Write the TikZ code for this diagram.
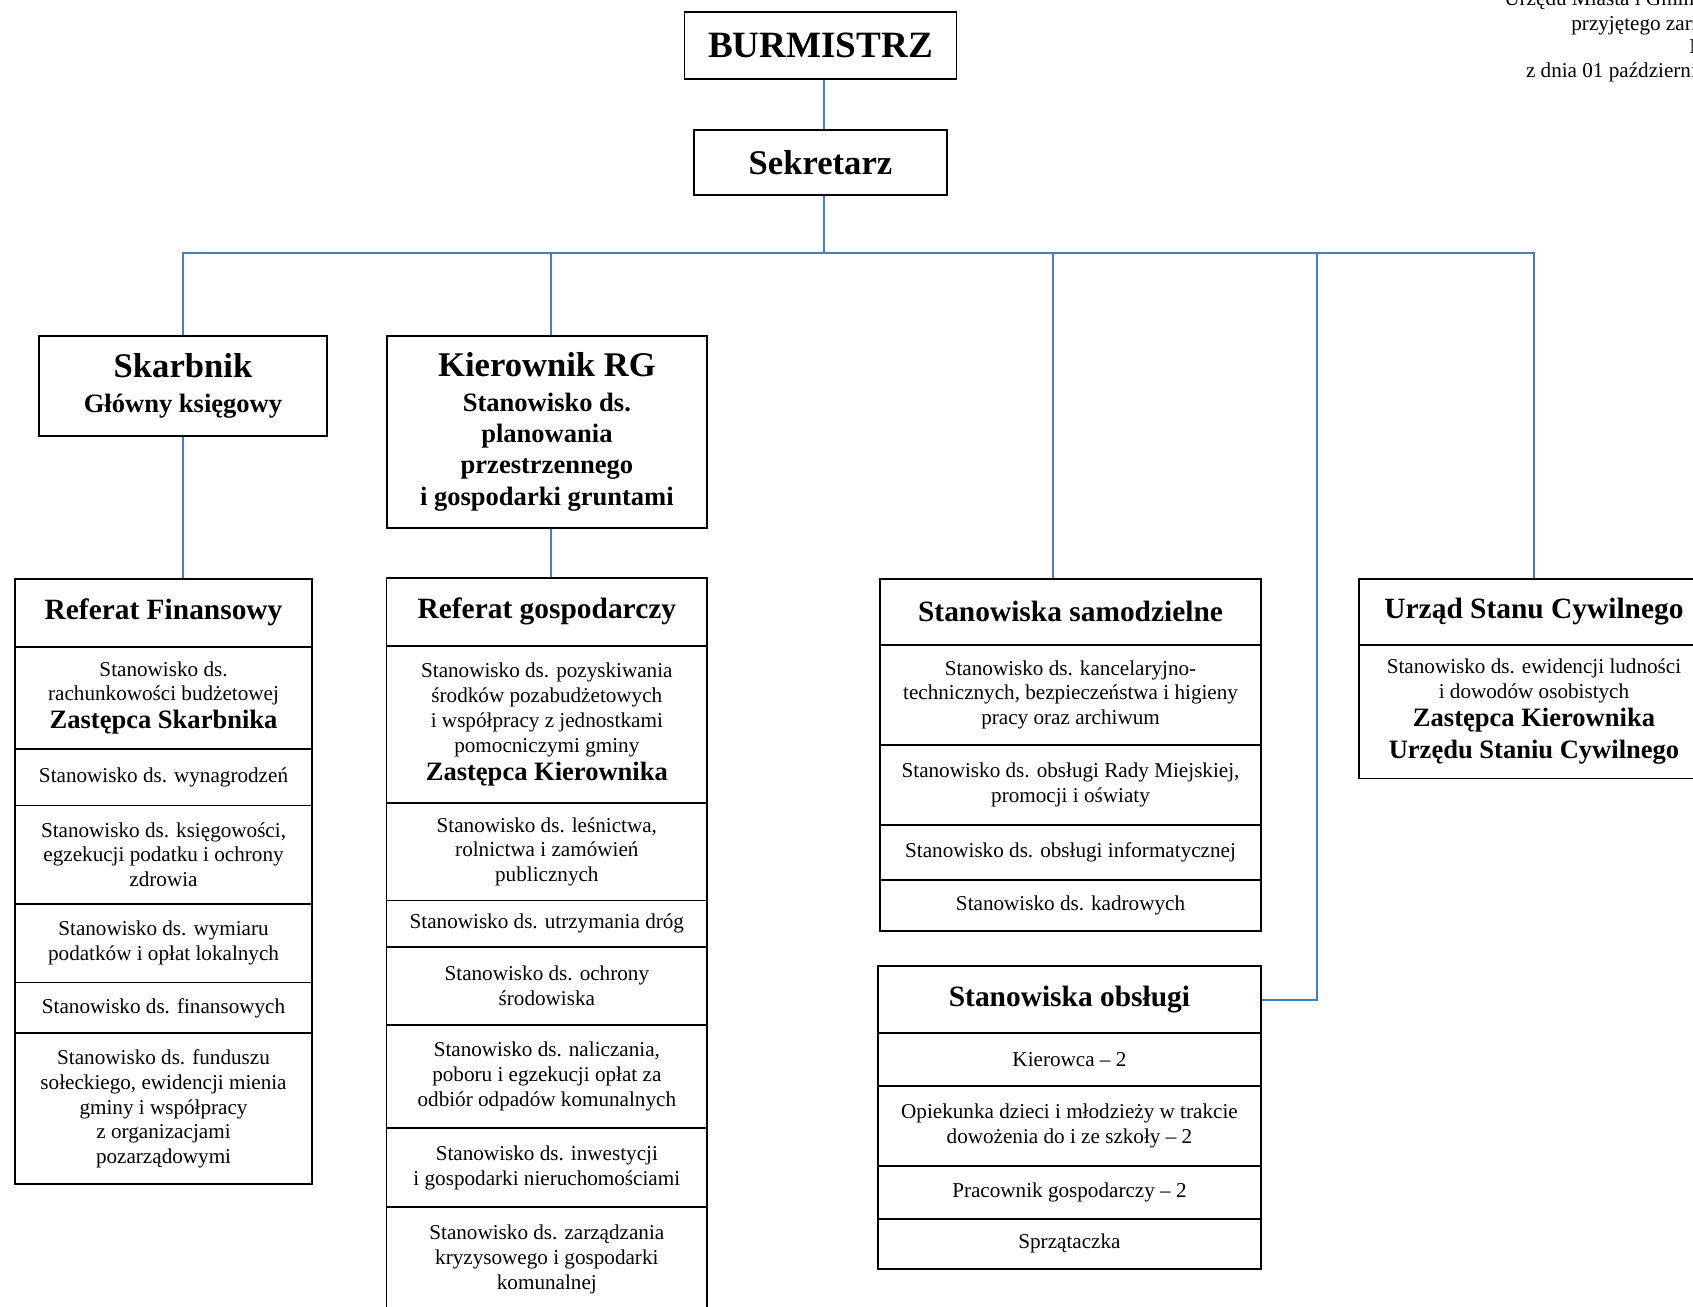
\documentclass[tikz,border=0pt]{standalone}
\usepackage{fontspec}
\setmainfont{Liberation Serif}
\definecolor{linkblue}{RGB}{74,126,187}
\newcommand{\pxu}{0.52pt}
\newcommand{\zast}[1]{{\fontsize{13.8}{16.3}\selectfont\bfseries #1}}
\newcommand{\duzy}[1]{{\fontsize{18}{20}\selectfont #1}}
\begin{document}
\begin{tikzpicture}[x=0.52pt, y=-0.52pt, font=\fontsize{11}{12.9}\selectfont,
	box/.style={draw, line width=1pt, align=center, inner sep=2pt},
	head/.style={box, font=\fontsize{15.3}{17}\selectfont\bfseries},
	chief/.style={box, font=\fontsize{13.8}{16.3}\selectfont\bfseries},
	link/.style={linkblue, line width=1pt}]
	\useasboundingbox (0,0) rectangle (1693,1306);
	\clip (0,0) rectangle (1693,1306);
	% naglowek w rogu
	\node[anchor=base west, inner sep=0] (zal1) at (1504,5) {Urzędu Miasta i Gminy};
	\node[anchor=base west, inner sep=0] (zal2) at (1571,30) {przyjętego zarządzeniem};
	\node[anchor=base west, inner sep=0] (zal3) at (1689,53.5) {Nr};
	\node[anchor=base west, inner sep=0] (zal4) at (1525.6,77) {z dnia 01 października};
	% kierownictwo
	\node[chief, font=\fontsize{19.3}{21}\selectfont\bfseries, minimum width=272*\pxu, minimum height=67*\pxu] (burm) at (820.5,45.3) {BURMISTRZ};
	\node[chief, font=\fontsize{18}{20}\selectfont\bfseries, minimum width=252.7*\pxu, minimum height=65.8*\pxu] (sekr) at (820.5,162.5) {Sekretarz};
	\node[chief, minimum width=288.2*\pxu, minimum height=100.4*\pxu] (skarb) at (183,386) {\duzy{Skarbnik}\\[1.7pt] Główny księgowy};
	\node[chief, minimum width=320.7*\pxu, minimum height=192.2*\pxu] (kier) at (546.9,431.9) {\duzy{Kierownik RG}\\[1.7pt] Stanowisko ds.\\ planowania\\ przestrzennego\\ i gospodarki gruntami};
	% referat finansowy
	\node[head, minimum width=296.9*\pxu, minimum height=68*\pxu] (fin0) at (163.55,612.7) {Referat Finansowy};
	\foreach \n/\ya/\yb/\txt in {1/646.7/749.3/{Stanowisko ds.\\ rachunkowości budżetowej\\[1.7pt] \zast{Zastępca Skarbnika}},
		2/749.3/805.5/{Stanowisko ds. wynagrodzeń},
		3/805.5/903.7/{Stanowisko ds. księgowości,\\ egzekucji podatku i ochrony\\ zdrowia},
		4/903.7/982.5/{Stanowisko ds. wymiaru\\ podatków i opłat lokalnych},
		5/982.5/1033.3/{Stanowisko ds. finansowych},
		6/1033.3/1184.4/{Stanowisko ds. funduszu\\ sołeckiego, ewidencji mienia\\ gminy i współpracy\\ z organizacjami\\ pozarządowymi}}{
		\node[box, minimum width=296.9*\pxu, minimum height={(\yb-\ya)*\pxu}] (fin\n) at (163.55,{(\ya+\yb)/2}) {\txt};
	}
	% referat gospodarczy
	\node[head, minimum width=320.7*\pxu, minimum height=68.1*\pxu] (gosp0) at (546.85,611.65) {Referat gospodarczy};
	\foreach \n/\ya/\yb/\txt in {1/645.7/803.3/{Stanowisko ds. pozyskiwania\\ środków pozabudżetowych\\ i współpracy z jednostkami\\ pomocniczymi gminy\\[1.7pt] \zast{Zastępca Kierownika}},
		2/803.3/900.5/{Stanowisko ds. leśnictwa,\\ rolnictwa i zamówień\\ publicznych},
		3/900.5/946.9/{Stanowisko ds. utrzymania dróg},
		4/946.9/1024.6/{Stanowisko ds. ochrony\\ środowiska},
		5/1024.6/1128.3/{Stanowisko ds. naliczania,\\ poboru i egzekucji opłat za\\ odbiór odpadów komunalnych},
		6/1128.3/1207.1/{Stanowisko ds. inwestycji\\ i gospodarki nieruchomościami},
		7/1207.1/1312/{Stanowisko ds. zarządzania\\ kryzysowego i gospodarki\\ komunalnej}}{
		\node[box, minimum width=320.7*\pxu, minimum height={(\yb-\ya)*\pxu}] (gosp\n) at (546.85,{(\ya+\yb)/2}) {\txt};
	}
	% stanowiska samodzielne
	\node[head, minimum width=381.1*\pxu, minimum height=65.9*\pxu] (samo0) at (1070.55,611.65) {Stanowiska samodzielne};
	\foreach \n/\ya/\yb/\txt in {1/644.6/745.0/{Stanowisko ds. kancelaryjno-\\ technicznych, bezpieczeństwa i higieny\\ pracy oraz archiwum},
		2/745.0/824.9/{Stanowisko ds. obsługi Rady Miejskiej,\\ promocji i oświaty},
		3/824.9/880.0/{Stanowisko ds. obsługi informatycznej},
		4/880.0/930.7/{Stanowisko ds. kadrowych}}{
		\node[box, minimum width=381.1*\pxu, minimum height={(\yb-\ya)*\pxu}] (samo\n) at (1070.55,{(\ya+\yb)/2}) {\txt};
	}
	% stanowiska obslugi
	\node[head, minimum width=383.3*\pxu, minimum height=67*\pxu] (obs0) at (1069.45,999.8) {Stanowiska obsługi};
	\foreach \n/\ya/\yb/\txt in {1/1033.3/1086.2/{Kierowca – 2},
		2/1086.2/1166.1/{Opiekunka dzieci i młodzieży w trakcie\\ dowożenia do i ze szkoły – 2},
		3/1166.1/1218.9/{Pracownik gospodarczy – 2},
		4/1218.9/1268.6/{Sprzątaczka}}{
		\node[box, minimum width=383.3*\pxu, minimum height={(\yb-\ya)*\pxu}] (obs\n) at (1069.45,{(\ya+\yb)/2}) {\txt};
	}
	% USC
	\node[head, minimum width=349.4*\pxu, minimum height=65.9*\pxu] (usc0) at (1534,611.65) {Urząd Stanu Cywilnego};
	\node[box, minimum width=349.4*\pxu, minimum height=133.9*\pxu] (usc1) at (1534,711.55) {Stanowisko ds. ewidencji ludności\\ i dowodów osobistych\\[1.7pt] \zast{Zastępca Kierownika}\\[3.4pt] \zast{Urzędu Staniu Cywilnego}};
	% polaczenia
	\coordinate (bus) at (823.8,252.6);
	\coordinate (dropK) at (550.6,252.6);
	\coordinate (dropS) at (1052.7,252.6);
	\coordinate (dropO) at (1317.2,252.6);
	\draw[link] (bus |- burm.south) -- (bus |- sekr.north);
	\draw[link] (bus |- sekr.south) -- (bus);
	\draw[link] (skarb.north) |- (usc0.north |- bus) -- (usc0.north);
	\draw[link] (dropK) -- (dropK |- kier.north);
	\draw[link] (dropS) -- (dropS |- samo0.north);
	\draw[link] (dropO) |- (obs0.east);
	\draw[link] (skarb.south) -- (skarb.south |- fin0.north);
	\draw[link] (dropK |- kier.south) -- (dropK |- gosp0.north);
\end{tikzpicture}
\end{document}
